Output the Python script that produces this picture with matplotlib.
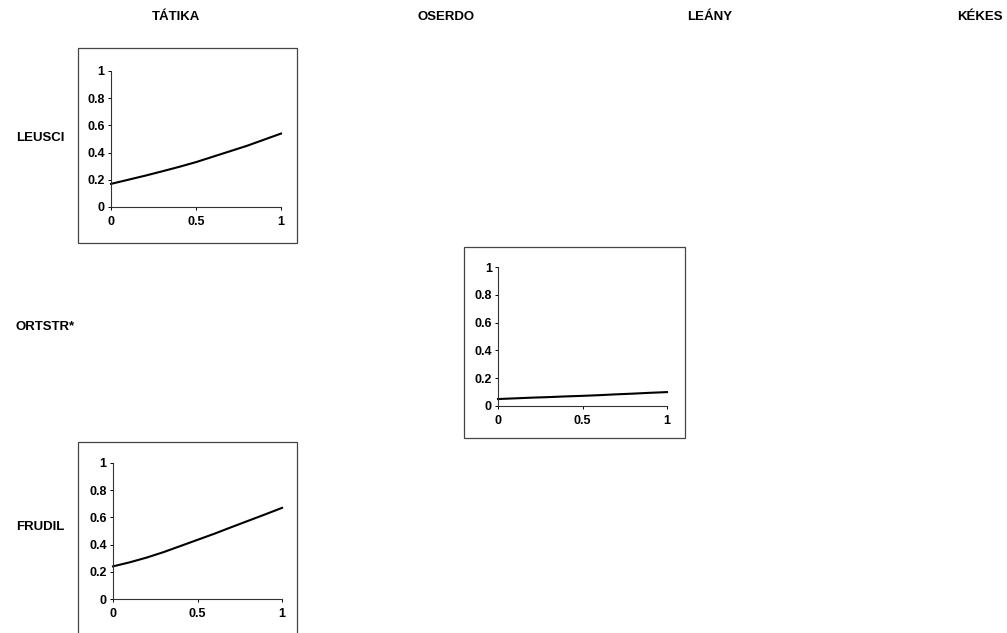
import matplotlib
matplotlib.use("Agg")
import matplotlib.pyplot as plt
from matplotlib.patches import Rectangle

plt.rcParams['font.family'] = ['Liberation Sans', 'DejaVu Sans']

# 站点（列）与物种（行）
SITES = ['TÁTIKA', 'OSERDO', 'LEÁNY', 'KÉKES']
SPECIES = ['LEUSCI', 'ORTSTR*', 'FRUDIL']

# 响应曲线
X_VALS = [0, 0.1, 0.2, 0.3, 0.4, 0.5, 0.6, 0.7, 0.8, 0.9, 1.0]
LEUSCI_TATIKA = [0.17, 0.20, 0.23, 0.262, 0.295, 0.33, 0.37, 0.41, 0.45, 0.495, 0.54]
ORTSTR_OSERDO = [0.05, 0.055, 0.06, 0.064, 0.069, 0.073, 0.078, 0.084, 0.089, 0.095, 0.10]
FRUDIL_TATIKA = [0.24, 0.27, 0.305, 0.345, 0.39, 0.435, 0.48, 0.528, 0.575, 0.622, 0.67]

Y_TICKS = [0, 0.2, 0.4, 0.6, 0.8, 1]
Y_TICKLABELS = ['0', '0.2', '0.4', '0.6', '0.8', '1']
X_TICKS = [0, 0.5, 1]
X_TICKLABELS = ['0', '0.5', '1']

W, H = 1007, 633
fig = plt.figure(figsize=(W / 100, H / 100), dpi=100)


def px_axes(left, top, right, bottom):
    return fig.add_axes([left / W, 1 - bottom / H, (right - left) / W, (bottom - top) / H])


def px_box(left, top, right, bottom):
    fig.patches.append(Rectangle((left / W, 1 - bottom / H), (right - left) / W, (bottom - top) / H,
                                 transform=fig.transFigure, fill=False, edgecolor='#444444',
                                 linewidth=0.9))


def panel(ax_px, box_px, y):
    px_box(*box_px)
    ax = px_axes(*ax_px)
    ax.plot(X_VALS, y, color='black', linewidth=1.5, clip_on=False,
            solid_joinstyle='round')
    ax.set_xlim(0, 1)
    ax.set_ylim(0, 1)
    for s in ['top', 'right']:
        ax.spines[s].set_visible(False)
    for s in ['left', 'bottom']:
        ax.spines[s].set_linewidth(0.8)
        ax.spines[s].set_color('#333333')
    ax.set_xticks(X_TICKS)
    ax.set_xticklabels(X_TICKLABELS, fontsize=9, fontweight='bold')
    ax.set_yticks(Y_TICKS)
    ax.set_yticklabels(Y_TICKLABELS, fontsize=9, fontweight='bold')
    ax.tick_params(length=2.5, width=0.7, pad=2)
    ax.tick_params(axis='x', pad=4)
    ax.patch.set_alpha(0)
    return ax


panel((111, 71, 281, 207), (78, 48, 297, 243), LEUSCI_TATIKA)
panel((498, 267, 667, 406), (464, 247, 685, 438), ORTSTR_OSERDO)
panel((113, 463, 282, 599), (78, 442, 297, 640), FRUDIL_TATIKA)

# 列标题
for name, xc in zip(SITES, [176, 446, 710, 980]):
    fig.text(xc / W, 1 - 17 / H, name, ha='center', va='center', fontsize=9.5, fontweight='bold')

# 行标题
for name, yc in zip(SPECIES, [138, 327, 527]):
    fig.text(16 / W, 1 - yc / H, name, ha='left', va='center', fontsize=9.5, fontweight='bold')

fig.savefig('out.png', dpi=100)
